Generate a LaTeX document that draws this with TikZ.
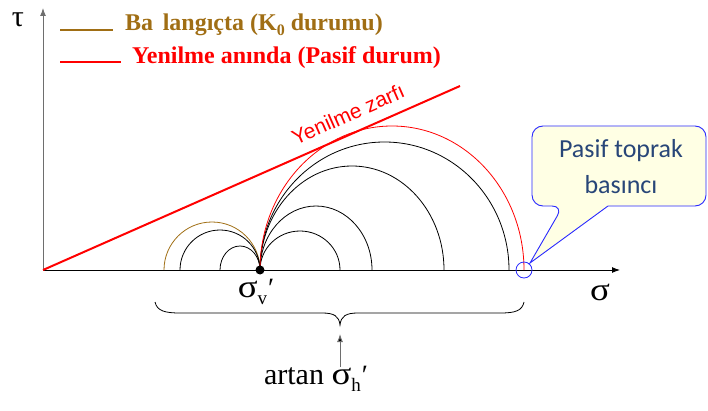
\documentclass[tikz,border=0pt]{standalone}
\usepackage{fontspec}
\setmainfont{Liberation Serif}
\newfontfamily\arialf{Liberation Sans}
\newfontfamily\calibrif{Carlito}
\usetikzlibrary{arrows.meta}
\definecolor{brn}{RGB}{160,110,20}
\definecolor{calloutfill}{RGB}{255,255,228}
\definecolor{calloutdraw}{RGB}{40,40,255}
\definecolor{callouttext}{RGB}{40,70,120}
\definecolor{axgray}{RGB}{110,110,110}
\newcommand{\wsig}{\scalebox{1.15}[1]{\fontsize{32}{36}\selectfont σ}}
\begin{document}
\begin{tikzpicture}[x=1pt,y=1pt,
  arcline/.style={line width=0.8pt,black},
  axisline/.style={line width=1pt,-{Latex[length=8pt,width=6pt]}},
  legendtext/.style={anchor=west,inner sep=0pt,font=\fontsize{24}{28}\selectfont\bfseries},
  bigtext/.style={inner sep=0pt,font=\fontsize{32}{36}\selectfont}]
\useasboundingbox (0,0) rectangle (708,410);
% axes
\coordinate (O) at (43,140);
\coordinate (xend) at (620,140);
\coordinate (yend) at (43,402);
\draw[axisline,black] (O) -- (xend);
\draw[axisline,axgray] (O) -- (yend);
\node[inner sep=0pt,font=\fontsize{30}{34}\selectfont] (tau) at (18,390) {τ};
\node[inner sep=0pt] (sigma) at (600,118) {\wsig};
% failure envelope
\coordinate (fend) at (460,324);
\draw[red,line width=2pt] (O) -- (fend);
\node[red,inner sep=0pt,rotate=23.8,font=\arialf\fontsize{21}{24}\selectfont] (zarf) at (348,296) {Yenilme zarfı};
% circles
\coordinate (sv) at (260,140);
\draw[arcline,brn] (164,140) arc[start angle=180,end angle=0,x radius=48,y radius=48];
\draw[arcline] (180,140) arc[start angle=180,end angle=0,x radius=40,y radius=40];
\draw[arcline] (220,140) arc[start angle=180,end angle=0,x radius=20,y radius=24];
\draw[arcline] (sv) arc[start angle=180,end angle=0,x radius=40,y radius=39];
\draw[arcline] (sv) arc[start angle=180,end angle=0,x radius=56,y radius=64];
\draw[arcline] (sv) arc[start angle=180,end angle=0,x radius=92,y radius=104];
\draw[arcline] (sv) arc[start angle=180,end angle=0,x radius=124.5,y radius=128];
\draw[arcline,red] (sv) arc[start angle=180,end angle=0,x radius=132,y radius=144];
\fill (sv) circle[radius=4.5];
\node[inner sep=0pt,font=\fontsize{32}{36}\selectfont] (svlabel) at (256,118) {\wsig\raisebox{-0.22em}{\fontsize{19}{19}\selectfont v}\kern1pt\fontsize{28}{30}\selectfont′};
% passive point
\coordinate (pp) at (524,140);
\draw[calloutdraw,line width=0.8pt] (pp) circle[radius=8];
% callout
\draw[calloutdraw,fill=calloutfill,line width=0.9pt] (563,204) -- (530,147) -- (608,204)
  [rounded corners=11pt] -- (706,204) -- (706,284) -- (532,284) -- (532,204) -- cycle;
\node[callouttext,align=center,font=\calibrif\fontsize{26}{36}\selectfont] (callout) at (621,243) {Pasif toprak\\basıncı};
% brace
\coordinate (bl) at (155,108);
\coordinate (br) at (524,108);
\coordinate (btip) at (340,85);
\draw[line width=0.8pt] (bl) .. controls (157,99) and (165,97) .. (180,97) -- (322,97)
  .. controls (334,97) and (339,94) .. (btip)
  .. controls (341,94) and (346,97) .. (358,97) -- (500,97)
  .. controls (515,97) and (522,99) .. (br);
\node[inner sep=0pt,font=\fontsize{30}{34}\selectfont] (artan) at (316,31) {artan \wsig\raisebox{-0.22em}{\fontsize{19}{19}\selectfont h}\kern1pt\fontsize{28}{30}\selectfont′};
\coordinate (arrtop) at (340,76);
\coordinate (arrbot) at (340,43);
\draw[axgray,line width=1pt,-{Latex[length=8pt,width=6pt,fill=black]}] (arrbot) -- (arrtop);
% legend
\coordinate (l1a) at (60,380);
\coordinate (l1b) at (113,380);
\draw[brn,line width=1.2pt] (l1a) -- (l1b);
\node[legendtext,brn] (leg1) at (125,385) {Ba\hspace{0.4em}langıçta (K\raisebox{-0.2em}{\fontsize{16}{16}\selectfont 0} durumu)};
\coordinate (l2a) at (60,348);
\coordinate (l2b) at (121,348);
\draw[red,line width=1.2pt] (l2a) -- (l2b);
\node[legendtext,red] (leg2) at (132,352) {Yenilme anında (Pasif durum)};
\end{tikzpicture}
\end{document}
